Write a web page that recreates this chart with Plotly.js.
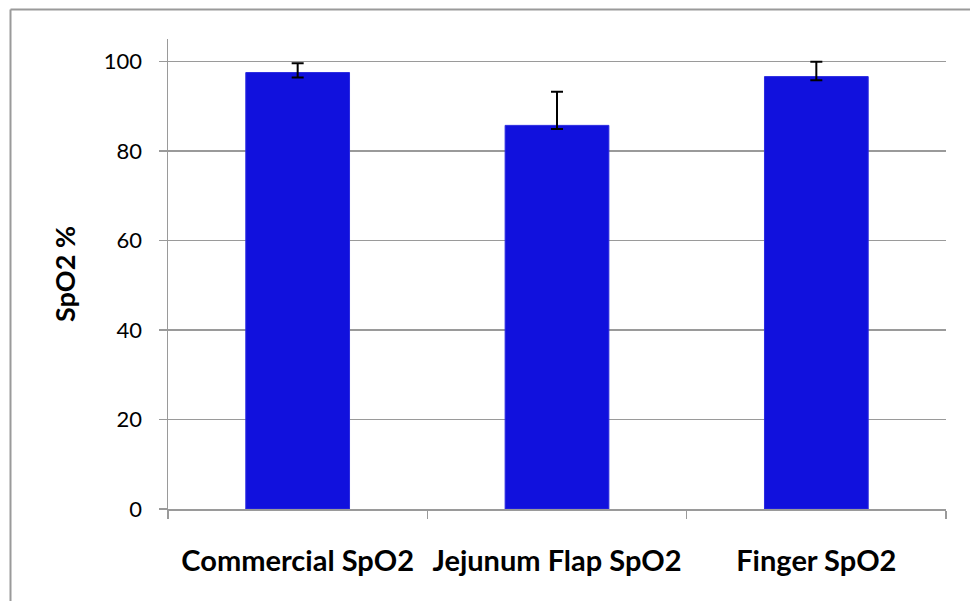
<!DOCTYPE html>
<html>
<head>
<meta charset="utf-8">
<script src="https://cdn.plot.ly/plotly-3.0.1.min.js"></script>
<style>
html,body{margin:0;padding:0;background:#fff;}
#chart{width:970px;height:601px;}
</style>
</head>
<body>
<div id="chart"></div>
<script>
const categories = ["Commercial SpO2", "Jejunum Flap SpO2", "Finger SpO2"];
const meanValues = [97.5, 85.7, 96.6];
const errorPlus = [2.1, 7.5, 3.3];
const errorMinus = [1.1, 0.8, 0.8];
const yTickValues = [0, 20, 40, 60, 80, 100];
const yAxisTitle = "SpO2 %";

const W = 970, H = 601;
const L = 168, R = 946, T = 39, B = 509;
const px2x = p => (p - L) / (R - L);
const py2y = p => (B - p) / (B - T);
const gray = "#9a9a9a";

const trace = {
  type: "bar",
  x: categories,
  y: meanValues,
  width: 0.4,
  marker: {color: "#1111DD", line: {color: "#2a2ae0", width: 1}},
  error_y: {
    type: "data",
    symmetric: false,
    array: errorPlus,
    arrayminus: errorMinus,
    color: "#000000",
    thickness: 2,
    width: 6
  },
  hoverinfo: "none"
};

const layout = {
  width: W, height: H,
  margin: {l: L, r: W - R, t: T, b: H - B, pad: 0},
  paper_bgcolor: "#ffffff",
  plot_bgcolor: "#ffffff",
  showlegend: false,
  font: {family: "Lato, 'Open Sans', sans-serif", color: "#000000"},
  xaxis: {
    type: "category",
    showgrid: false,
    showline: true,
    linecolor: gray,
    linewidth: 1.5,
    ticks: "outside",
    tickson: "boundaries",
    ticklen: 8,
    tickcolor: gray,
    tickwidth: 1.5,
    tickfont: {size: 29, family: "Lato, sans-serif", weight: "bold", color: "#000"},
    ticklabelstandoff: 26,
    fixedrange: true
  },
  yaxis: {
    range: [0, 105],
    tickvals: yTickValues,
    ticktext: yTickValues.map(String),
    showgrid: true,
    gridcolor: gray,
    gridwidth: 1.5,
    zeroline: false,
    showline: true,
    linecolor: gray,
    linewidth: 1.5,
    ticks: "outside",
    ticklen: 8,
    tickcolor: gray,
    tickwidth: 1.5,
    tickfont: {size: 22, family: "Lato, sans-serif", color: "#000"},
    ticklabelstandoff: 12,
    title: {text: yAxisTitle, font: {size: 27, family: "Lato, sans-serif", weight: "bold", color: "#000"}, standoff: 20},
    fixedrange: true
  },
  shapes: [
    {type: "line", xref: "paper", yref: "paper", x0: px2x(10.5), x1: px2x(990), y0: py2y(9.5), y1: py2y(9.5), line: {color: gray, width: 2}},
    {type: "line", xref: "paper", yref: "paper", x0: px2x(10.5), x1: px2x(10.5), y0: py2y(9.5), y1: py2y(620), line: {color: gray, width: 2}}
  ]
};

Plotly.newPlot("chart", [trace], layout, {displayModeBar: false, staticPlot: true});
</script>
</body>
</html>
